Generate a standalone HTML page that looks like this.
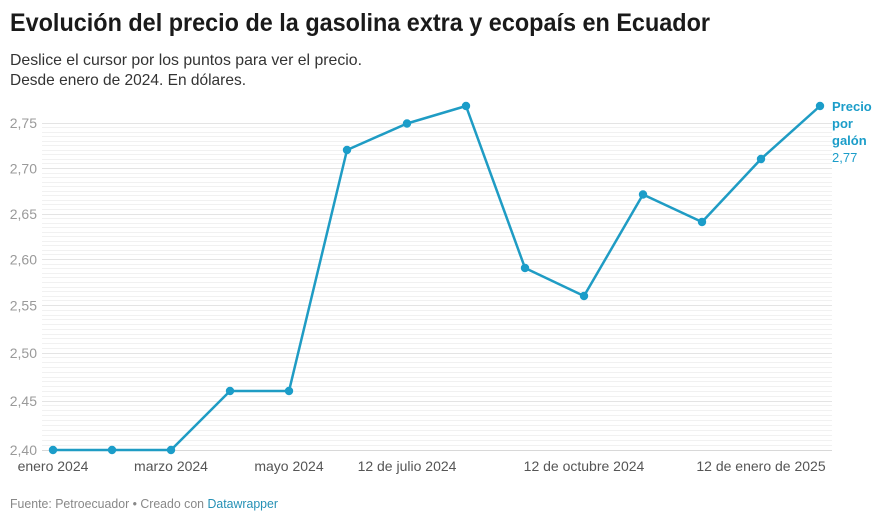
<!DOCTYPE html>
<html>
<head>
<meta charset="utf-8">
<style>
  html, body { margin: 0; padding: 0; background: #fff; }
  body { width: 887px; height: 521px; overflow: hidden; }
  svg { display: block; font-family: "Liberation Sans", "DejaVu Sans", sans-serif; }
</style>
</head>
<body>
<svg width="887" height="521" viewBox="0 0 887 521" xmlns="http://www.w3.org/2000/svg">
  <!-- Title -->
  <text x="10" y="31" font-size="25" font-weight="bold" fill="#1a1a1a" textLength="700" lengthAdjust="spacingAndGlyphs">Evolución del precio de la gasolina extra y ecopaís en Ecuador</text>
  <text x="10" y="65" font-size="16" fill="#333" textLength="352" lengthAdjust="spacingAndGlyphs">Deslice el cursor por los puntos para ver el precio.</text>
  <text x="10" y="85" font-size="16" fill="#333" textLength="236" lengthAdjust="spacingAndGlyphs">Desde enero de 2024. En dólares.</text>

  <!-- Minor gridlines -->
  <path stroke="#f1f1f1" stroke-width="1" fill="none" shape-rendering="crispEdges" d="
    M42 127.5H832 M42 132.5H832 M42 136.5H832 M42 141.5H832 M42 145.5H832 M42 150.5H832 M42 154.5H832 M42 159.5H832 M42 163.5H832
    M42 173.5H832 M42 177.5H832 M42 182.5H832 M42 186.5H832 M42 191.5H832 M42 195.5H832 M42 200.5H832 M42 204.5H832 M42 209.5H832
    M42 218.5H832 M42 223.5H832 M42 227.5H832 M42 232.5H832 M42 236.5H832 M42 241.5H832 M42 245.5H832 M42 250.5H832 M42 254.5H832
    M42 264.5H832 M42 268.5H832 M42 273.5H832 M42 277.5H832 M42 282.5H832 M42 287.5H832 M42 291.5H832 M42 296.5H832 M42 300.5H832
    M42 310.5H832 M42 315.5H832 M42 319.5H832 M42 324.5H832 M42 329.5H832 M42 334.5H832 M42 338.5H832 M42 343.5H832 M42 348.5H832
    M42 357.5H832 M42 362.5H832 M42 367.5H832 M42 372.5H832 M42 377.5H832 M42 381.5H832 M42 386.5H832 M42 391.5H832 M42 396.5H832
    M42 405.5H832 M42 410.5H832 M42 415.5H832 M42 420.5H832 M42 425.5H832 M42 430.5H832 M42 435.5H832 M42 440.5H832 M42 445.5H832"/>
  <!-- Major gridlines -->
  <path stroke="#e4e4e4" stroke-width="1" fill="none" shape-rendering="crispEdges" d="
    M42 123.5H832 M42 168.5H832 M42 214.5H832 M42 259.5H832 M42 305.5H832 M42 353.5H832 M42 401.5H832"/>
  <path stroke="#d8d8d8" stroke-width="1" fill="none" shape-rendering="crispEdges" d="M42 450.5H832"/>

  <!-- Y axis labels -->
  <g font-size="14" fill="#9a9a9a" text-anchor="end">
    <text x="37" y="128">2,75</text>
    <text x="37" y="173.5">2,70</text>
    <text x="37" y="219">2,65</text>
    <text x="37" y="264.5">2,60</text>
    <text x="37" y="310.5">2,55</text>
    <text x="37" y="358">2,50</text>
    <text x="37" y="406">2,45</text>
    <text x="37" y="455">2,40</text>
  </g>

  <!-- X axis labels -->
  <g font-size="14" fill="#555" text-anchor="middle">
    <text x="53" y="471">enero 2024</text>
    <text x="171" y="471">marzo 2024</text>
    <text x="289" y="471">mayo 2024</text>
    <text x="407" y="471">12 de julio 2024</text>
    <text x="584" y="471">12 de octubre 2024</text>
    <text x="761" y="471">12 de enero de 2025</text>
  </g>

  <!-- Series -->
  <polyline fill="none" stroke="#1f9cc4" stroke-width="2.5" stroke-linejoin="round" stroke-linecap="round"
    points="53,450 112,450 171,450 230,391 289,391 347,150 407,123.5 466,106 525,268 584,296 643,194.5 702,222 761,159 820,106"/>
  <g fill="#1b9dc9">
    <circle cx="53" cy="450" r="4.2"/>
    <circle cx="112" cy="450" r="4.2"/>
    <circle cx="171" cy="450" r="4.2"/>
    <circle cx="230" cy="391" r="4.2"/>
    <circle cx="289" cy="391" r="4.2"/>
    <circle cx="347" cy="150" r="4.2"/>
    <circle cx="407" cy="123.5" r="4.2"/>
    <circle cx="466" cy="106" r="4.2"/>
    <circle cx="525" cy="268" r="4.2"/>
    <circle cx="584" cy="296" r="4.2"/>
    <circle cx="643" cy="194.5" r="4.2"/>
    <circle cx="702" cy="222" r="4.2"/>
    <circle cx="761" cy="159" r="4.2"/>
    <circle cx="820" cy="106" r="4.2"/>
  </g>

  <!-- Series label -->
  <g font-size="13" fill="#1b9dc9">
    <text x="832" y="111" font-weight="bold">Precio</text>
    <text x="832" y="128" font-weight="bold">por</text>
    <text x="832" y="145" font-weight="bold">galón</text>
    <text x="832" y="162">2,77</text>
  </g>

  <!-- Footer -->
  <text x="10" y="508" font-size="12.5" fill="#888" textLength="268" lengthAdjust="spacingAndGlyphs">Fuente: Petroecuador • Creado con <tspan fill="#2590b5">Datawrapper</tspan></text>
</svg>
</body>
</html>
